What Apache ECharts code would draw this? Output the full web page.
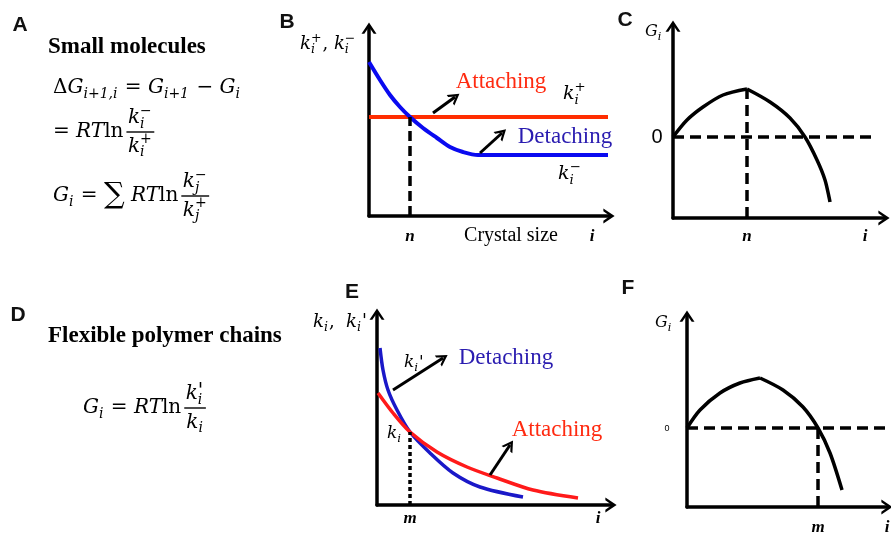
<!DOCTYPE html>
<html>
<head>
<meta charset="utf-8">
<script src="https://cdn.jsdelivr.net/npm/echarts@6/dist/echarts.min.js"></script>
<style>
  html, body { margin: 0; background: #fff; }
  #chart { width: 891px; height: 534px; }
</style>
</head>
<body>
<div id="chart"></div>
<script>
// B: rate constants vs crystal size
const bAttach = [[0, 99], [239, 99]]
const bDetach = [[0, 154], [11, 136], [21, 121], [31, 109], [41, 99], [54, 88], [68, 78], [81, 69], [94, 64], [109, 61], [239, 61]]
const bCritical = [[41, 0], [41, 99]]
const bArrows = [[[64, 103], [86, 119]], [[111, 63], [133, 83]]]
// C: free energy, small molecules
const cRise = [[0, 81], [14, 98], [30, 111], [50, 123], [74, 129]]
const cFall = [[74, 129], [97, 116], [117, 100], [132, 81], [144, 58], [152, 38], [157, 16]]
const cZero = [[0, 81], [204, 81]]
const cCritical = [[74, 0], [74, 129]]
// E: rate constants, flexible chains
const eDetach = [[3, 157], [6, 135], [11, 115], [20, 95], [33, 73], [53, 52], [76, 32], [103, 18], [146, 8]]
const eAttach = [[1, 112], [16, 92], [33, 73], [60, 53], [90, 38], [120, 27], [156, 15], [201, 7]]
const eCritical = [[33, 0], [33, 73]]
const eArrows = [[[16, 115], [66, 147]], [[113, 30], [133, 60]]]
// F: free energy, flexible chains
const fRise = [[0, 79], [13, 97], [33, 114], [53, 124], [73, 129]]
const fFall = [[73, 129], [96, 117], [116, 100], [131, 79], [143, 54], [155, 17]]
const fZero = [[0, 79], [204, 79]]
const fCritical = [[131, 0], [131, 79]]

const SERIF = "'Liberation Serif', 'DejaVu Serif', serif"
const MATH = "'DejaVu Serif', serif"
const SANS = "'Liberation Sans', Arial, sans-serif"
const CHEV = 'path://M0,12 L8,0 L16,12 L13,12 L8,5 L3,12 Z'

const grids = [
    { left: 369, top: 28, width: 240, height: 188 },
    { left: 673, top: 26, width: 211, height: 192 },
    { left: 377, top: 314, width: 234, height: 191 },
    { left: 687, top: 316, width: 200, height: 191 }
]

const axisBase = (i, max) => ({
    gridIndex: i, type: 'value', min: 0, max: max,
    axisLine: { show: true, onZero: false, symbol: ['none', CHEV], symbolSize: [15, 12], lineStyle: { color: '#000', width: 3.5 } },
    axisTick: { show: false }, axisLabel: { show: false }, splitLine: { show: false }
})

const curve = (gi, data, color, width, type, smooth) => ({
    type: 'line', xAxisIndex: gi, yAxisIndex: gi, data: data, symbol: 'none',
    smooth: smooth ? 0.3 : false, clip: false, silent: true,
    lineStyle: { color: color, width: width, type: type || 'solid', cap: 'butt' }
})

const arrowMarks = (list) => ({
    silent: true, symbol: ['none', CHEV], symbolSize: [13, 11], label: { show: false },
    lineStyle: { color: '#000', width: 3, type: 'solid' },
    emphasis: { disabled: true },
    data: list.map(a => [{ coord: a[0] }, { coord: a[1] }])
})

// text helpers (equations are pieced together token by token)
const ctx = document.createElement('canvas').getContext('2d')
const tw = (t, font) => { ctx.font = font; return ctx.measureText(t).width }
const txt = (x, y, text, font, fill, align) => ({
    type: 'text', x: x, y: y, silent: true,
    style: { text: text, font: font, fill: fill || '#000', align: align || 'left', verticalAlign: 'middle' }
})

// token kinds: v italic, n upright, big operator, b subscript, bp sub+sup stacked, pr prime
function mathRow(x, base, toks, s, color) {
    const els = []
    let cx = x
    const pf = 'italic ' + s + 'px ' + MATH
    toks.forEach(t => {
        const kind = t[0]
        if (kind === 'v' || kind === 'n' || kind === 'big') {
            const size = kind === 'big' ? s * 1.45 : s
            const font = (kind === 'v' ? 'italic ' : '') + size + 'px ' + MATH
            const yb = kind === 'big' ? base + s * 0.1 : base
            els.push(txt(cx, yb - 0.3 * size, t[1], font, color))
            cx += tw(t[1], font)
        } else if (kind === 'pr') {
            els.push(txt(cx, base - 0.3 * s, "'", pf, color))
            cx += tw("'", pf)
        } else {
            const size = s * 0.7
            const fi = 'italic ' + size + 'px ' + MATH
            const fn = size + 'px ' + MATH
            let w = 0
            if (kind === 'b' || kind === 'bp') {
                els.push(txt(cx, base + 0.22 * s - 0.3 * size, t[1], fi, color))
                w = tw(t[1], fi)
            }
            if (kind === 'bp' && t[2] === "'") {
                els.push(txt(cx, base - 0.42 * s, "'", pf, color))
                w = Math.max(w, tw("'", pf))
            } else if (kind === 'bp') {
                els.push(txt(cx, base - 0.42 * s - 0.3 * size, t[2], fn, color))
                w = Math.max(w, tw(t[2], fn))
            }
            cx += w + 1
        }
    })
    return { els: els, end: cx }
}

function frac(x, bar, num, den, s) {
    const n0 = mathRow(0, 0, num, s), d0 = mathRow(0, 0, den, s)
    const w = Math.max(n0.end, d0.end) + 3
    const n = mathRow(x + (w - n0.end) / 2, bar - 0.4 * s, num, s)
    const d = mathRow(x + (w - d0.end) / 2, bar + 1.02 * s, den, s)
    const line = { type: 'rect', silent: true, shape: { x: x, y: bar - 0.7, width: w, height: 1.4 }, style: { fill: '#000' } }
    return n.els.concat(d.els, [line])
}

const S = 20
const eq1 = mathRow(53, 94, [['n', 'Δ'], ['v', 'G'], ['b', 'i+1,i'], ['n', ' = '], ['v', 'G'], ['b', 'i+1'], ['n', ' − '], ['v', 'G'], ['b', 'i']], S)
const eq2 = mathRow(53, 138, [['n', '= '], ['v', 'RT'], ['n', 'ln']], S)
const eq2f = frac(eq2.end + 3, 132, [['v', 'k'], ['bp', 'i', '−']], [['v', 'k'], ['bp', 'i', '+']], S)
const eq3 = mathRow(53, 202, [['v', 'G'], ['b', 'i'], ['n', ' = '], ['big', '∑'], ['n', ' '], ['v', 'RT'], ['n', 'ln']], S)
const eq3f = frac(eq3.end + 3, 196, [['v', 'k'], ['bp', 'j', '−']], [['v', 'k'], ['bp', 'j', '+']], S)
const eq4 = mathRow(83, 414, [['v', 'G'], ['b', 'i'], ['n', ' = '], ['v', 'RT'], ['n', 'ln']], S)
const eq4f = frac(eq4.end + 3, 408, [['v', 'k'], ['bp', 'i', "'"]], [['v', 'k'], ['b', 'i']], S)

const labels = [
    mathRow(300, 50, [['v', 'k'], ['bp', 'i', '+'], ['n', ', '], ['v', 'k'], ['bp', 'i', '−']], 18),
    mathRow(563, 100, [['v', 'k'], ['bp', 'i', '+']], 19),
    mathRow(558, 180, [['v', 'k'], ['bp', 'i', '−']], 19),
    mathRow(645, 37, [['v', 'G'], ['b', 'i']], 16),
    mathRow(313, 328, [['v', 'k'], ['b', 'i'], ['n', ',  '], ['v', 'k'], ['b', 'i'], ['pr']], 18),
    mathRow(404, 368, [['v', 'k'], ['b', 'i'], ['pr']], 17),
    mathRow(387, 439, [['v', 'k'], ['b', 'i']], 17),
    mathRow(655, 328, [['v', 'G'], ['b', 'i']], 16)
]

const letter = (x, y, t) => txt(x, y, t, 'bold 21px ' + SANS, '#111', 'center')
const ax = (x, y, t) => txt(x, y, t, 'italic bold 17px ' + SERIF, '#000', 'center')
const red = '#ff2a10'

let elements = [
    letter(20, 25, 'A'), letter(287, 22, 'B'), letter(625, 20, 'C'),
    letter(18, 315, 'D'), letter(352, 292, 'E'), letter(628, 288, 'F'),
    txt(48, 47, 'Small molecules', 'bold 23px ' + SERIF),
    txt(48, 336, 'Flexible polymer chains', 'bold 23px ' + SERIF),
    txt(501, 82, 'Attaching', '23px ' + SERIF, red, 'center'),
    txt(565, 137, 'Detaching', '23px ' + SERIF, '#2a1cb0', 'center'),
    txt(506, 358, 'Detaching', '23px ' + SERIF, '#2a1cb0', 'center'),
    txt(557, 430, 'Attaching', '23px ' + SERIF, red, 'center'),
    txt(511, 236, 'Crystal size', '20px ' + SERIF, '#000', 'center'),
    txt(657, 137, '0', '20px ' + SANS, '#000', 'center'),
    txt(667, 429, '0', '9px ' + SANS, '#000', 'center'),
    ax(410, 237, 'n'), ax(592, 237, 'i'), ax(747, 237, 'n'), ax(865, 237, 'i'),
    ax(410, 519, 'm'), ax(598, 519, 'i'), ax(818, 528, 'm'), ax(887, 528, 'i')
]
elements = elements.concat(eq1.els, eq2.els, eq2f, eq3.els, eq3f, eq4.els, eq4f)
labels.forEach(l => { elements = elements.concat(l.els) })

const option = {
    animation: false,
    backgroundColor: '#fff',
    grid: grids,
    xAxis: grids.map((g, i) => axisBase(i, g.width)),
    yAxis: grids.map((g, i) => axisBase(i, g.height)),
    series: [
        Object.assign(curve(0, bAttach, '#ff2d00', 4), { markLine: arrowMarks(bArrows) }),
        curve(0, bDetach, '#0a0af0', 4, 'solid', true),
        curve(0, bCritical, '#000', 3.5, [10, 5]),
        curve(1, cRise, '#000', 3.5, 'solid', true),
        curve(1, cFall, '#000', 3.5, 'solid', true),
        curve(1, cZero, '#000', 3.5, [11, 6]),
        curve(1, cCritical, '#000', 3.5, [11, 6]),
        Object.assign(curve(2, eDetach, '#1a18c8', 3.5, 'solid', true), { markLine: arrowMarks(eArrows) }),
        curve(2, eAttach, '#ff1a1a', 3.5, 'solid', true),
        curve(2, eCritical, '#000', 3.5, [4, 3]),
        curve(3, fRise, '#000', 3.5, 'solid', true),
        curve(3, fFall, '#000', 3.5, 'solid', true),
        curve(3, fZero, '#000', 3.5, [11, 6]),
        curve(3, fCritical, '#000', 3.5, [11, 6])
    ],
    graphic: { elements: elements }
}

const myChart = echarts.init(document.getElementById('chart'))
myChart.setOption(option)
</script>
</body>
</html>
